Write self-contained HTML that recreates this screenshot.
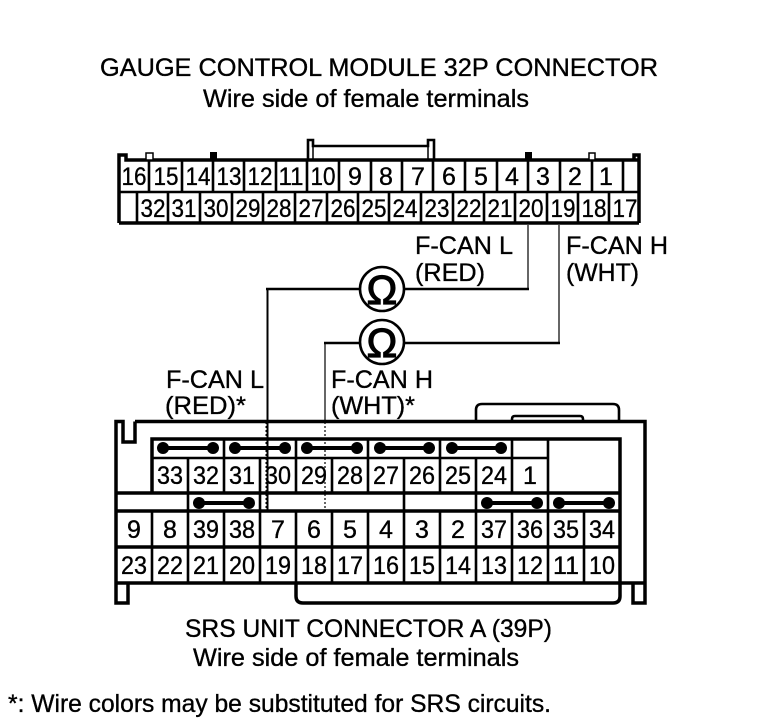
<!DOCTYPE html>
<html><head><meta charset="utf-8"><style>
html,body{margin:0;padding:0;background:#fff}
svg{display:block}
text{font-family:"Liberation Sans",sans-serif;fill:#000;stroke:#000;stroke-width:.35}
.t{font-size:25px}
.n{font-size:25px;text-anchor:middle}
.b{stroke:#000;stroke-width:3.5;fill:none}
.m{stroke:#000;stroke-width:2.6;fill:none}
</style></head><body>
<svg width="768" height="724" viewBox="0 0 768 724" xmlns="http://www.w3.org/2000/svg">
<text class="t" x="100" y="76" textLength="558" lengthAdjust="spacingAndGlyphs">GAUGE CONTROL MODULE 32P CONNECTOR</text>
<text class="t" x="203" y="107" textLength="326" lengthAdjust="spacingAndGlyphs">Wire side of female terminals</text>

<!-- top connector -->
<path class="b" d="M119 223V155H126V160H639M639 223V155H634V160M119 223H639"/>
<path class="m" d="M308 160V140H313V146H428V140H434V160"/>
<path d="M313 146V160M428 146V160" stroke="#000" stroke-width="1.5"/>
<path d="M146 153h7v7h-7zM146 153h7" fill="#fff" stroke="#000" stroke-width="1.5"/>
<path d="M210 152h7v8h-7zM525 152h7v8h-7z" fill="#000"/>
<path d="M589 153h6v7h-6z" fill="#fff" stroke="#000" stroke-width="1.5"/>
<path class="m" d="M119 192H639M149 160V192M182 160V192M213 160V192M244 160V192M276 160V192M307 160V192M339 160V192M371 160V192M402 160V192M433 160V192M465 160V192M497 160V192M528 160V192M560 160V192M592 160V192M623 160V192"/>
<path class="m" d="M137 192V223M168 192V223M200 192V223M232 192V223M263 192V223M295 192V223M327 192V223M358 192V223M389 192V223M421 192V223M453 192V223M484 192V223M515 192V223M547 192V223M578 192V223M609 192V223"/>
<text class="n" x="134" y="185" textLength="25" lengthAdjust="spacingAndGlyphs">16</text><text class="n" x="166" y="185" textLength="25" lengthAdjust="spacingAndGlyphs">15</text><text class="n" x="198" y="185" textLength="25" lengthAdjust="spacingAndGlyphs">14</text><text class="n" x="229" y="185" textLength="25" lengthAdjust="spacingAndGlyphs">13</text><text class="n" x="260" y="185" textLength="25" lengthAdjust="spacingAndGlyphs">12</text><text class="n" x="291" y="185" textLength="25" lengthAdjust="spacingAndGlyphs">11</text><text class="n" x="323" y="185" textLength="25" lengthAdjust="spacingAndGlyphs">10</text><text class="n" x="355" y="185">9</text><text class="n" x="386" y="185">8</text><text class="n" x="418" y="185">7</text><text class="n" x="449" y="185">6</text><text class="n" x="481" y="185">5</text><text class="n" x="512" y="185">4</text><text class="n" x="543" y="185">3</text><text class="n" x="575" y="185">2</text><text class="n" x="606" y="185">1</text>
<text class="n" x="153" y="217" textLength="25" lengthAdjust="spacingAndGlyphs">32</text><text class="n" x="184" y="217" textLength="25" lengthAdjust="spacingAndGlyphs">31</text><text class="n" x="216" y="217" textLength="25" lengthAdjust="spacingAndGlyphs">30</text><text class="n" x="248" y="217" textLength="25" lengthAdjust="spacingAndGlyphs">29</text><text class="n" x="279" y="217" textLength="25" lengthAdjust="spacingAndGlyphs">28</text><text class="n" x="311" y="217" textLength="25" lengthAdjust="spacingAndGlyphs">27</text><text class="n" x="343" y="217" textLength="25" lengthAdjust="spacingAndGlyphs">26</text><text class="n" x="374" y="217" textLength="25" lengthAdjust="spacingAndGlyphs">25</text><text class="n" x="405" y="217" textLength="25" lengthAdjust="spacingAndGlyphs">24</text><text class="n" x="437" y="217" textLength="25" lengthAdjust="spacingAndGlyphs">23</text><text class="n" x="469" y="217" textLength="25" lengthAdjust="spacingAndGlyphs">22</text><text class="n" x="500" y="217" textLength="25" lengthAdjust="spacingAndGlyphs">21</text><text class="n" x="531" y="217" textLength="25" lengthAdjust="spacingAndGlyphs">20</text><text class="n" x="563" y="217" textLength="25" lengthAdjust="spacingAndGlyphs">19</text><text class="n" x="594" y="217" textLength="25" lengthAdjust="spacingAndGlyphs">18</text><text class="n" x="625" y="217" textLength="25" lengthAdjust="spacingAndGlyphs">17</text>

<!-- wires -->
<path d="M267.5 422V289" stroke="#000" stroke-width="2" fill="none"/>
<path d="M325 422V343M528 225V289M559 225V343" stroke="#000" stroke-width="1.2" fill="none"/>
<path d="M266 289H360M404 289H529M324 343H360M404 343H560" stroke="#000" stroke-width="2.6" fill="none"/>
<circle class="m" cx="382" cy="289" r="22" fill="#fff"/>
<circle class="m" cx="382" cy="342" r="22" fill="#fff"/>
<text x="382" y="304" font-size="41" text-anchor="middle" style="stroke-width:1.2">Ω</text>
<text x="382" y="357" font-size="41" text-anchor="middle" style="stroke-width:1.2">Ω</text>
<text class="t" x="415" y="254" textLength="98" lengthAdjust="spacingAndGlyphs">F-CAN L</text>
<text class="t" x="415" y="281" textLength="70" lengthAdjust="spacingAndGlyphs">(RED)</text>
<text class="t" x="566" y="254" textLength="102" lengthAdjust="spacingAndGlyphs">F-CAN H</text>
<text class="t" x="566" y="281" textLength="73" lengthAdjust="spacingAndGlyphs">(WHT)</text>
<text class="t" x="166" y="388" textLength="98" lengthAdjust="spacingAndGlyphs">F-CAN L</text>
<text class="t" x="165" y="414" textLength="81" lengthAdjust="spacingAndGlyphs">(RED)*</text>
<text class="t" x="331" y="388" textLength="102" lengthAdjust="spacingAndGlyphs">F-CAN H</text>
<text class="t" x="331" y="414" textLength="84" lengthAdjust="spacingAndGlyphs">(WHT)*</text>

<!-- bottom connector -->
<path class="m" d="M476 421V410Q476 404 482 404H613Q619 404 619 410V421"/>
<path class="m" d="M512 421V419Q512 416 515 416H580Q583 416 583 419V421"/>
<path class="b" d="M135 421.5H645V603H633V584M135 421.5V442H123V421.5H116V603H128V584"/>
<path class="b" d="M116 583H645M296 584V596Q296 603 303 603H613Q620 603 620 596V584"/>
<path class="b" d="M152 493V439H620V583M116 493H620M116 511H620M116 547H620"/>
<path class="m" d="M152 458H548M224 439V458M296 439V458M368 439V458M440 439V458M512 439V458"/>
<path class="m" d="M188 458V493M224 458V493M260 458V511M296 458V493M332 458V493M368 458V493M404 458V493M440 458V493M476 458V493M512 458V493M548 439V511"/>
<path class="m" d="M188 493V511M404 493V511M476 493V511"/>
<path class="m" d="M152 511V583M188 511V583M224 511V583M260 511V583M296 511V583M332 511V583M368 511V583M404 511V583M440 511V583M476 511V583M512 511V583M548 511V583M584 511V583"/>
<g fill="#000" stroke="#000">
<path stroke-width="4" d="M163 448H213M235 448H285M307 448H357M380 448H429M452 448H501M199 503H249M487 503H537M559 503H609"/>
<g stroke="none">
<circle cx="163" cy="448" r="6"/><circle cx="213" cy="448" r="6"/><circle cx="235" cy="448" r="6"/><circle cx="285" cy="448" r="6"/><circle cx="307" cy="448" r="6"/><circle cx="357" cy="448" r="6"/><circle cx="380" cy="448" r="6"/><circle cx="429" cy="448" r="6"/><circle cx="452" cy="448" r="6"/><circle cx="501" cy="448" r="6"/>
<circle cx="199" cy="503" r="6"/><circle cx="249" cy="503" r="6"/><circle cx="487" cy="503" r="6"/><circle cx="537" cy="503" r="6"/><circle cx="559" cy="503" r="6"/><circle cx="609" cy="503" r="6"/>
</g>
</g>
<text class="n" x="170" y="484" textLength="26" lengthAdjust="spacingAndGlyphs">33</text><text class="n" x="206" y="484" textLength="26" lengthAdjust="spacingAndGlyphs">32</text><text class="n" x="242" y="484" textLength="26" lengthAdjust="spacingAndGlyphs">31</text><text class="n" x="278" y="484" textLength="26" lengthAdjust="spacingAndGlyphs">30</text><text class="n" x="314" y="484" textLength="26" lengthAdjust="spacingAndGlyphs">29</text><text class="n" x="350" y="484" textLength="26" lengthAdjust="spacingAndGlyphs">28</text><text class="n" x="386" y="484" textLength="26" lengthAdjust="spacingAndGlyphs">27</text><text class="n" x="422" y="484" textLength="26" lengthAdjust="spacingAndGlyphs">26</text><text class="n" x="458" y="484" textLength="26" lengthAdjust="spacingAndGlyphs">25</text><text class="n" x="494" y="484" textLength="26" lengthAdjust="spacingAndGlyphs">24</text><text class="n" x="530" y="484">1</text>
<text class="n" x="134" y="538">9</text><text class="n" x="170" y="538">8</text><text class="n" x="206" y="538" textLength="26" lengthAdjust="spacingAndGlyphs">39</text><text class="n" x="242" y="538" textLength="26" lengthAdjust="spacingAndGlyphs">38</text><text class="n" x="278" y="538">7</text><text class="n" x="314" y="538">6</text><text class="n" x="350" y="538">5</text><text class="n" x="386" y="538">4</text><text class="n" x="422" y="538">3</text><text class="n" x="458" y="538">2</text><text class="n" x="494" y="538" textLength="26" lengthAdjust="spacingAndGlyphs">37</text><text class="n" x="530" y="538" textLength="26" lengthAdjust="spacingAndGlyphs">36</text><text class="n" x="566" y="538" textLength="26" lengthAdjust="spacingAndGlyphs">35</text><text class="n" x="602" y="538" textLength="26" lengthAdjust="spacingAndGlyphs">34</text>
<text class="n" x="134" y="574" textLength="26" lengthAdjust="spacingAndGlyphs">23</text><text class="n" x="170" y="574" textLength="26" lengthAdjust="spacingAndGlyphs">22</text><text class="n" x="206" y="574" textLength="26" lengthAdjust="spacingAndGlyphs">21</text><text class="n" x="242" y="574" textLength="26" lengthAdjust="spacingAndGlyphs">20</text><text class="n" x="278" y="574" textLength="26" lengthAdjust="spacingAndGlyphs">19</text><text class="n" x="314" y="574" textLength="26" lengthAdjust="spacingAndGlyphs">18</text><text class="n" x="350" y="574" textLength="26" lengthAdjust="spacingAndGlyphs">17</text><text class="n" x="386" y="574" textLength="26" lengthAdjust="spacingAndGlyphs">16</text><text class="n" x="422" y="574" textLength="26" lengthAdjust="spacingAndGlyphs">15</text><text class="n" x="458" y="574" textLength="26" lengthAdjust="spacingAndGlyphs">14</text><text class="n" x="494" y="574" textLength="26" lengthAdjust="spacingAndGlyphs">13</text><text class="n" x="530" y="574" textLength="26" lengthAdjust="spacingAndGlyphs">12</text><text class="n" x="566" y="574" textLength="26" lengthAdjust="spacingAndGlyphs">11</text><text class="n" x="602" y="574" textLength="26" lengthAdjust="spacingAndGlyphs">10</text>

<!-- wires over lower connector -->
<path d="M267.5 422V512" stroke="#000" stroke-width="2" fill="none"/>
<path d="M266 422V512" stroke="#000" stroke-width="1" stroke-dasharray="2 2" fill="none"/>
<path d="M325 422V512" stroke="#000" stroke-width="1.2" stroke-dasharray="2 2" fill="none"/>

<text class="t" x="185" y="637" textLength="367" lengthAdjust="spacingAndGlyphs">SRS UNIT CONNECTOR A (39P)</text>
<text class="t" x="193" y="666" textLength="326" lengthAdjust="spacingAndGlyphs">Wire side of female terminals</text>
<text class="t" x="8" y="712" textLength="543" lengthAdjust="spacingAndGlyphs">*: Wire colors may be substituted for SRS circuits.</text>
</svg>
</body></html>
